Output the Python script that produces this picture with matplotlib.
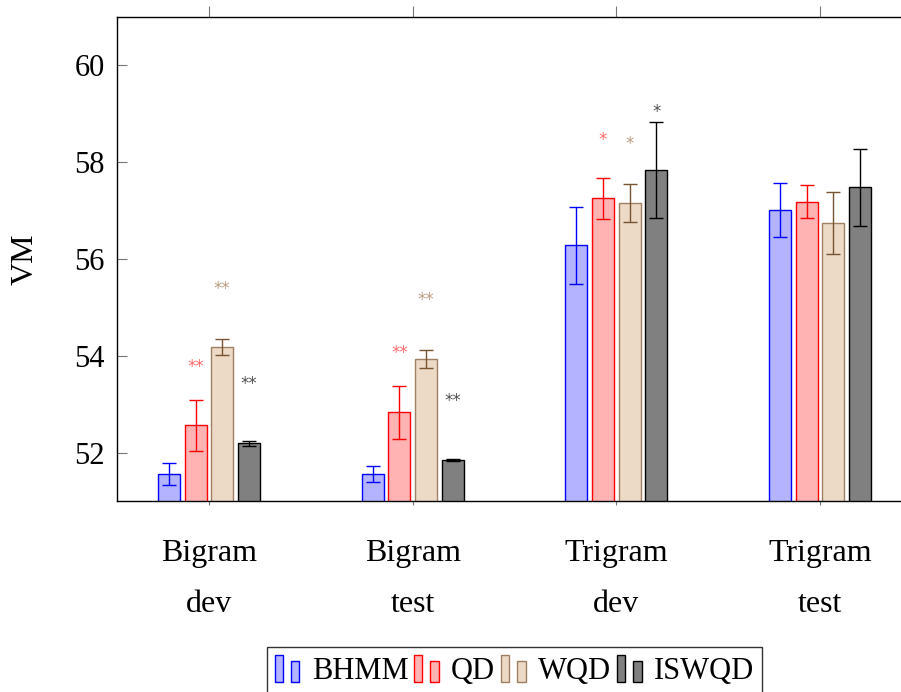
import numpy as np
import matplotlib
matplotlib.use("Agg")
import matplotlib.pyplot as plt
from matplotlib.patches import Patch, Rectangle
from matplotlib.legend_handler import HandlerBase

plt.rcParams['font.family'] = ['Liberation Serif', 'DejaVu Serif']

# data
groups = ['Bigram\ndev', 'Bigram\ntest', 'Trigram\ndev', 'Trigram\ntest']
methods = ['BHMM', 'QD', 'WQD', 'ISWQD']

bhmm = [51.56, 51.56, 56.28, 57.02]
bhmm_err = [0.22, 0.16, 0.79, 0.56]
qd = [52.56, 52.83, 57.25, 57.18]
qd_err = [0.53, 0.55, 0.42, 0.34]
wqd = [54.18, 53.93, 57.15, 56.75]
wqd_err = [0.16, 0.18, 0.39, 0.64]
iswqd = [52.19, 51.85, 57.84, 57.48]
iswqd_err = [0.06, 0.02, 0.99, 0.80]

# significance marks: (group, method, label, y position)
stars = [
    (0, 'QD', '**', 53.76), (0, 'WQD', '**', 55.39), (0, 'ISWQD', '**', 53.41),
    (1, 'QD', '**', 54.05), (1, 'WQD', '**', 55.16), (1, 'ISWQD', '**', 53.06),
    (2, 'QD', '*', 58.45), (2, 'WQD', '*', 58.37), (2, 'ISWQD', '*', 59.03),
]

values = {'BHMM': bhmm, 'QD': qd, 'WQD': wqd, 'ISWQD': iswqd}
errors = {'BHMM': bhmm_err, 'QD': qd_err, 'WQD': wqd_err, 'ISWQD': iswqd_err}
face = {'BHMM': '#b3b3ff', 'QD': '#ffb3b3', 'WQD': '#ecd9c6', 'ISWQD': '#808080'}
edge = {'BHMM': '#0000ff', 'QD': '#ff0000', 'WQD': '#a08062', 'ISWQD': '#000000'}
ecol = {'BHMM': '#0000ff', 'QD': '#ff0000', 'WQD': '#7a5430', 'ISWQD': '#000000'}
starcol = {'QD': '#ff6b6b', 'WQD': '#b89c80', 'ISWQD': '#505050'}
offsets = {'BHMM': -0.196, 'QD': -0.065, 'WQD': 0.065, 'ISWQD': 0.196}
width = 0.108

fig = plt.figure(figsize=(9.01, 6.92), dpi=100)
ax = fig.add_axes([117 / 901, 191 / 692, 795 / 901, 484 / 692])

x = np.arange(len(groups))
for m in methods:
    ax.bar(x + offsets[m], values[m], width, bottom=0, color=face[m],
           edgecolor=edge[m], linewidth=1.0, zorder=2)
    ax.errorbar(x + offsets[m], values[m], yerr=errors[m], fmt='none',
                ecolor=ecol[m], elinewidth=1.0, capsize=5, capthick=1.0, zorder=3)

for g, m, lab, yy in stars:
    ax.text(g + offsets[m], yy, lab, color=starcol[m], fontsize=12,
            ha='center', va='center', family='DejaVu Sans')

ax.set_xlim(-0.452, 3.452)
ax.set_ylim(51, 61)
ax.set_yticks([52, 54, 56, 58, 60])
ax.set_xticks(x)
ax.set_xticklabels(groups, fontsize=23, linespacing=2.0)
ax.tick_params(axis='y', direction='in', length=7, width=0.8, color='#777777',
               labelsize=22, pad=9, right=True)
ax.tick_params(axis='x', direction='out', length=3, width=0.8, color='#777777', pad=24)

top = ax.secondary_xaxis('top')
top.set_xticks(x)
top.set_xticklabels([])
top.tick_params(direction='out', length=8, width=0.8, color='#777777')
top.spines['top'].set_visible(False)

for s in ax.spines.values():
    s.set_linewidth(1.0)

ax.set_ylabel('VM', fontsize=23)
ax.yaxis.set_label_coords(-0.097, 0.5)


class TwoBarHandler(HandlerBase):
    def create_artists(self, legend, orig_handle, xdescent, ydescent,
                       width, height, fontsize, trans):
        fc = orig_handle.get_facecolor()
        ec = orig_handle.get_edgecolor()
        x0, y0 = -xdescent, -ydescent
        r1 = Rectangle((x0, y0), width * 0.32, height, facecolor=fc,
                       edgecolor=ec, linewidth=1.0, transform=trans)
        r2 = Rectangle((x0 + width * 0.65, y0), width * 0.35, height * 0.77,
                       facecolor=fc, edgecolor=ec, linewidth=1.0, transform=trans)
        return [r1, r2]


handles = [Patch(facecolor=face[m], edgecolor=edge[m]) for m in methods]
leg = ax.legend(handles, methods, loc='upper center', bbox_to_anchor=(0.5, -0.302),
                ncol=4, fontsize=22, frameon=True, fancybox=False,
                edgecolor='#333333', framealpha=1, handlelength=0.8,
                handleheight=1.0, handletextpad=0.4, columnspacing=0.2,
                borderpad=0.25, borderaxespad=0,
                handler_map={Patch: TwoBarHandler()})
leg.get_frame().set_linewidth(1.0)

fig.savefig('out.png', dpi=100)
